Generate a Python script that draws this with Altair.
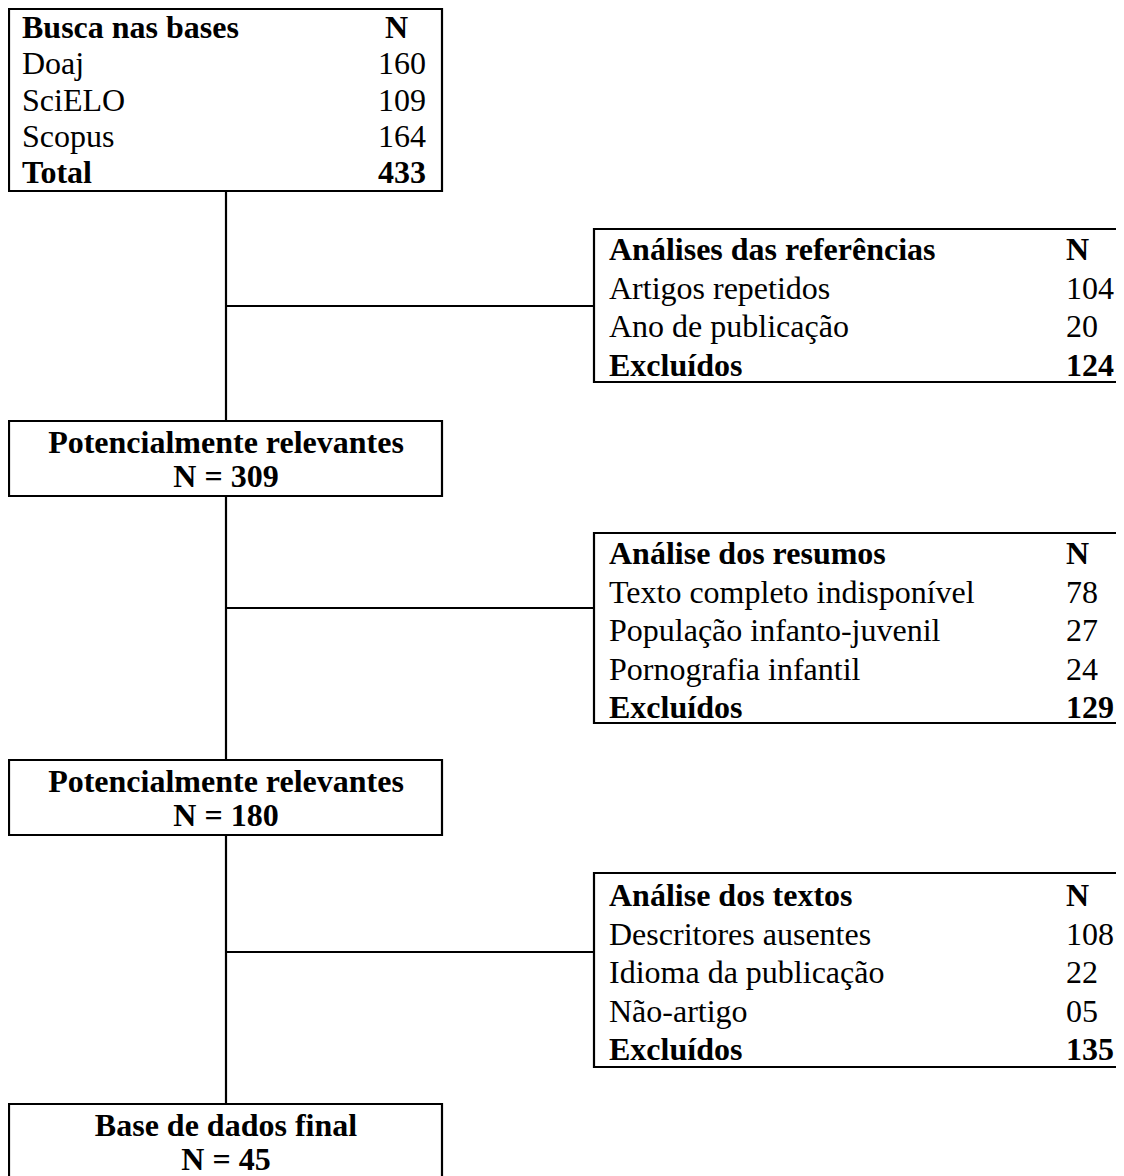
import altair as alt
import pandas as pd

# ---------------- data ----------------
search_title = "Busca nas bases"
search_sources = ["Doaj", "SciELO", "Scopus"]
search_counts = ["160", "109", "164"]
search_total = "433"

stage_titles = ["Potencialmente relevantes", "Potencialmente relevantes", "Base de dados final"]
stage_counts = ["309", "180", "45"]

excl_titles = ["Análises das referências", "Análise dos resumos", "Análise dos textos"]
excl_reasons = [
    ["Artigos repetidos", "Ano de publicação"],
    ["Texto completo indisponível", "População infanto-juvenil", "Pornografia infantil"],
    ["Descritores ausentes", "Idioma da publicação", "Não-artigo"],
]
excl_counts = [
    ["104", "20"],
    ["78", "27", "24"],
    ["108", "22", "05"],
]
excl_totals = ["124", "129", "135"]

# ---------------- layout (page pixel coordinates) ----------------
M = 8
CW = 1108          # drawable chart width  (page 8..1116)
CH = 1168          # drawable chart height (page 8..1176)
FONT = "Liberation Serif"
FS = 32
LX0, LX1, CX = 9, 442, 226
box1_y = (9, 191)
stage_y = [(421, 496), (760, 835), (1104, 1220)]
RX0, RX1 = 594, 1160
right_y = [(229, 382), (533, 723), (873, 1067)]
right_first = [21, 21, 23]
branch_y = [306, 608, 952]

rects = [dict(x=LX0, x2=LX1, y=box1_y[0], y2=box1_y[1])]
for (a, b) in stage_y:
    rects.append(dict(x=LX0, x2=LX1, y=a, y2=b))
for (a, b) in right_y:
    rects.append(dict(x=RX0, x2=RX1, y=a, y2=b))
rect_df = pd.DataFrame(rects)

rules = []
prev_bottom = box1_y[1]
for (a, b), by in zip(stage_y, branch_y):
    rules.append(dict(x=CX, x2=CX, y=prev_bottom, y2=a))
    rules.append(dict(x=CX, x2=RX0, y=by, y2=by))
    prev_bottom = b
rule_df = pd.DataFrame(rules)

normal, bold, center = [], [], []
# search box
sy0 = 28
sdy = 36.25
LBX = 22
bold.append(dict(x=LBX, y=sy0, t=search_title))
bold.append(dict(x=385, y=sy0, t="N"))
for i, (s, c) in enumerate(zip(search_sources, search_counts)):
    normal.append(dict(x=LBX, y=sy0 + (i + 1) * sdy, t=s))
    normal.append(dict(x=378, y=sy0 + (i + 1) * sdy, t=c))
bold.append(dict(x=LBX, y=sy0 + 4 * sdy, t="Total"))
bold.append(dict(x=378, y=sy0 + 4 * sdy, t=search_total))

# stage boxes
for (a, b), title, n in zip(stage_y, stage_titles, stage_counts):
    center.append(dict(x=CX, y=a + 22, t=title))
    center.append(dict(x=CX, y=a + 56, t=f"N = {n}"))

# exclusion boxes
for (a, b), off, title, reasons, counts, tot in zip(right_y, right_first, excl_titles, excl_reasons, excl_counts, excl_totals):
    y0 = a + off
    dy = 38.5
    bold.append(dict(x=609, y=y0, t=title))
    bold.append(dict(x=1066, y=y0, t="N"))
    for i, (r, c) in enumerate(zip(reasons, counts)):
        normal.append(dict(x=609, y=y0 + (i + 1) * dy, t=r))
        normal.append(dict(x=1066, y=y0 + (i + 1) * dy, t=c))
    k = len(reasons) + 1
    bold.append(dict(x=609, y=y0 + k * dy, t="Excluídos"))
    bold.append(dict(x=1066, y=y0 + k * dy, t=tot))

xs = alt.Scale(domain=[M, M + CW], range=[0, CW])
ys = alt.Scale(domain=[M, M + CH], range=[0, CH])
X = lambda f: alt.X(f, type="quantitative", scale=xs, axis=None)
Y = lambda f: alt.Y(f, type="quantitative", scale=ys, axis=None)

rect_layer = alt.Chart(rect_df).mark_rect(
    fill="white", stroke="black", strokeWidth=2.2, clip=True
).encode(x=X("x"), x2="x2", y=Y("y"), y2="y2")

rule_layer = alt.Chart(rule_df).mark_rule(color="black", strokeWidth=2.2).encode(
    x=X("x"), x2="x2", y=Y("y"), y2="y2"
)

def text_layer(rows, weight, align):
    return alt.Chart(pd.DataFrame(rows)).mark_text(
        font=FONT, fontSize=FS, fontWeight=weight, align=align,
        baseline="middle", color="black"
    ).encode(x=X("x"), y=Y("y"), text="t:N")

chart = alt.layer(
    rule_layer,
    rect_layer,
    text_layer(normal, "normal", "left"),
    text_layer(bold, "bold", "left"),
    text_layer(center, "bold", "center"),
).properties(
    width=CW, height=CH,
    autosize=alt.AutoSizeParams(type="none"),
    padding=0,
    background="white",
).configure_view(stroke=None)

chart.save("out.html", embed_options={"renderer": "svg", "actions": False})
